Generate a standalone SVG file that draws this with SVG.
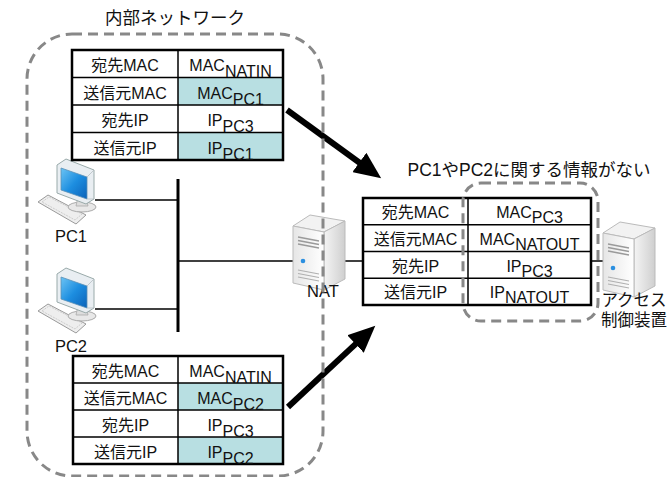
<svg xmlns="http://www.w3.org/2000/svg" width="668" height="477" viewBox="0 0 668 477">
  <style>
    text { font-family: "Liberation Sans", "Noto Sans CJK JP", sans-serif; fill: #111; }
    .cell { font-size: 16px; text-anchor: middle; }
    .lbl { font-size: 16.5px; text-anchor: middle; }
    .title { font-size: 17.5px; text-anchor: middle; }
    .outer { fill: none; stroke: #000; stroke-width: 2.5; }
    .grid { stroke: #000; stroke-width: 1.5; fill: none; }
    .hl { fill: #b8dfe2; }
    .bg { fill: #fff; }
    .wire { stroke: #000; stroke-width: 1.5; fill: none; }
    .bus { stroke: #000; stroke-width: 3; fill: none; }
    .zone { fill: none; stroke: #888; stroke-width: 3; stroke-dasharray: 10 6; }
    .flow { stroke: #000; stroke-width: 6; fill: none; marker-end: url(#head); }
  </style>
  <defs>
    <marker id="head" markerUnits="userSpaceOnUse" markerWidth="28" markerHeight="24" refX="8" refY="12" orient="auto">
      <path d="M0,0 L27,12 L0,24 z" fill="#000"/>
    </marker>
    <linearGradient id="screen" x1="0" y1="0" x2="1" y2="1">
      <stop offset="0" stop-color="#6cc4f4"/>
      <stop offset="0.5" stop-color="#1d8ee0"/>
      <stop offset="1" stop-color="#0b62b8"/>
    </linearGradient>
    <linearGradient id="side" x1="0" y1="0" x2="1" y2="0">
      <stop offset="0" stop-color="#f4f4f4"/>
      <stop offset="1" stop-color="#cfcfcf"/>
    </linearGradient>
    <linearGradient id="front" x1="0" y1="0" x2="1" y2="0">
      <stop offset="0" stop-color="#e6e6e6"/>
      <stop offset="1" stop-color="#ffffff"/>
    </linearGradient>
    <!-- desktop PC: monitor, stand and keyboard -->
    <g id="pc">
      <path d="M0,45 L10,38 L48,58 L38,67 z" fill="#eeeeee" stroke="#9a9a9a" stroke-width="1"/>
      <path d="M4,45 L11,40 L44,57 L37,63 z" fill="none" stroke="#c4c4c4" stroke-width="0.8" stroke-dasharray="2 1"/>
      <ellipse cx="44" cy="50" rx="14" ry="5" fill="#e8e8e8" stroke="#aaa" stroke-width="1"/>
      <path d="M40,40 L48,40 L50,49 L38,49 z" fill="#dddddd" stroke="#aaa" stroke-width="0.8"/>
      <path d="M19,8 L28,2 L56,13 L56,42 L48,47 L19,36 z" fill="#e9eef2" stroke="#9aa" stroke-width="1"/>
      <path d="M23,11 L49,20 L49,42 L23,33 z" fill="url(#screen)" stroke="#5a8fb5" stroke-width="0.8"/>
      <path d="M49,20 L56,13 M49,42 L56,42" stroke="#b5bcc2" stroke-width="0.8"/>
    </g>
    <!-- tower server -->
    <g id="server">
      <path d="M0,11 L17,0 L52,6 L31,17 z" fill="#f2f2f2" stroke="#bbb" stroke-width="1"/>
      <path d="M31,17 L52,6 L52,64 L31,75 z" fill="url(#side)" stroke="#bbb" stroke-width="1"/>
      <path d="M0,11 L31,17 L31,75 L0,68 z" fill="url(#front)" stroke="#bbb" stroke-width="1"/>
      <path d="M5,22 L26,26 M5,25.5 L26,29.5 M5,29 L26,33" stroke="#9a9a9a" stroke-width="1.5"/>
      <path d="M5,55 L26,59 M5,58.5 L26,62.5 M5,62 L26,66" stroke="#b0b0b0" stroke-width="1.2"/>
      <circle cx="10" cy="46" r="2.3" fill="#2b8fe0"/>
    </g>
  </defs>

  <!-- network wiring -->
  <g id="connectors">
    <line class="bus" x1="178" y1="179" x2="178" y2="332"/>
    <line class="wire" x1="95" y1="200" x2="178" y2="200"/>
    <line class="wire" x1="95" y1="309" x2="178" y2="309"/>
    <line class="wire" x1="178" y1="261" x2="293" y2="261"/>
    <line class="wire" x1="345" y1="261" x2="363" y2="261"/>
    <line class="wire" x1="591" y1="261" x2="603" y2="261"/>
    <line class="flow" x1="287" y1="110" x2="365.8" y2="167.2"/>
    <line class="flow" x1="288" y1="407" x2="361.4" y2="338.6"/>
  </g>

  <g id="pc1">
    <use href="#pc" x="38" y="157"/>
    <text class="lbl" x="71" y="242">PC1</text>
  </g>
  <g id="pc2">
    <use href="#pc" x="38" y="266"/>
    <text class="lbl" x="71" y="352">PC2</text>
  </g>
  <g id="nat">
    <use href="#server" x="293" y="215"/>
    <text class="lbl" x="323" y="297">NAT</text>
  </g>
  <g id="access-control">
    <use href="#server" x="603" y="222"/>
    <text class="lbl" x="634" y="306">アクセス</text>
    <text class="lbl" x="634" y="326">制御装置</text>
  </g>

  <!-- packet from PC1 -->
  <g id="packet-pc1">
    <rect class="bg" x="72" y="50" width="211" height="110"/>
    <rect class="hl" x="178" y="77.5" width="105" height="27.5"/>
    <rect class="hl" x="178" y="132.5" width="105" height="27.5"/>
    <path class="grid" d="M72,77.5 H283 M72,105 H283 M72,132.5 H283 M178,50 V160"/>
    <rect class="outer" x="72" y="50" width="211" height="110"/>
    <text class="cell" x="125" y="71">宛先MAC</text>
    <text class="cell" x="125" y="98.5">送信元MAC</text>
    <text class="cell" x="125" y="126">宛先IP</text>
    <text class="cell" x="125" y="153.5">送信元IP</text>
    <text class="cell" x="230.5" y="71">MAC<tspan dy="6">NATIN</tspan></text>
    <text class="cell" x="230.5" y="98.5">MAC<tspan dy="6">PC1</tspan></text>
    <text class="cell" x="230.5" y="126">IP<tspan dy="6">PC3</tspan></text>
    <text class="cell" x="230.5" y="153.5">IP<tspan dy="6">PC1</tspan></text>
  </g>

  <!-- packet from PC2 -->
  <g id="packet-pc2">
    <rect class="bg" x="73" y="356" width="210" height="108"/>
    <rect class="hl" x="178" y="383" width="105" height="27"/>
    <rect class="hl" x="178" y="437" width="105" height="27"/>
    <path class="grid" d="M73,383 H283 M73,410 H283 M73,437 H283 M178,356 V464"/>
    <rect class="outer" x="73" y="356" width="210" height="108"/>
    <text class="cell" x="125.5" y="377">宛先MAC</text>
    <text class="cell" x="125.5" y="404">送信元MAC</text>
    <text class="cell" x="125.5" y="431">宛先IP</text>
    <text class="cell" x="125.5" y="458">送信元IP</text>
    <text class="cell" x="230.5" y="377">MAC<tspan dy="6">NATIN</tspan></text>
    <text class="cell" x="230.5" y="404">MAC<tspan dy="6">PC2</tspan></text>
    <text class="cell" x="230.5" y="431">IP<tspan dy="6">PC3</tspan></text>
    <text class="cell" x="230.5" y="458">IP<tspan dy="6">PC2</tspan></text>
  </g>

  <!-- packet after NAT -->
  <g id="packet-natout">
    <rect class="bg" x="363" y="198" width="228" height="107"/>
    <path class="grid" d="M363,224.75 H591 M363,251.5 H591 M363,278.25 H591 M468,198 V305"/>
    <rect class="outer" x="363" y="198" width="228" height="107"/>
    <text class="cell" x="415.5" y="218">宛先MAC</text>
    <text class="cell" x="415.5" y="245">送信元MAC</text>
    <text class="cell" x="415.5" y="271.5">宛先IP</text>
    <text class="cell" x="415.5" y="298">送信元IP</text>
    <text class="cell" x="529.5" y="218">MAC<tspan dy="5">PC3</tspan></text>
    <text class="cell" x="529.5" y="245">MAC<tspan dy="5">NATOUT</tspan></text>
    <text class="cell" x="529.5" y="271.5">IP<tspan dy="5">PC3</tspan></text>
    <text class="cell" x="529.5" y="298">IP<tspan dy="5">NATOUT</tspan></text>
  </g>

  <!-- zones -->
  <g id="internal-network">
    <rect class="zone" x="27" y="34" width="296" height="442" rx="45" ry="45"/>
    <text class="title" x="175" y="24">内部ネットワーク</text>
  </g>
  <g id="no-pc-info">
    <rect class="zone" x="463" y="183" width="135" height="138" rx="18" ry="18"/>
    <text class="title" x="529" y="176">PC1やPC2に関する情報がない</text>
  </g>
</svg>
